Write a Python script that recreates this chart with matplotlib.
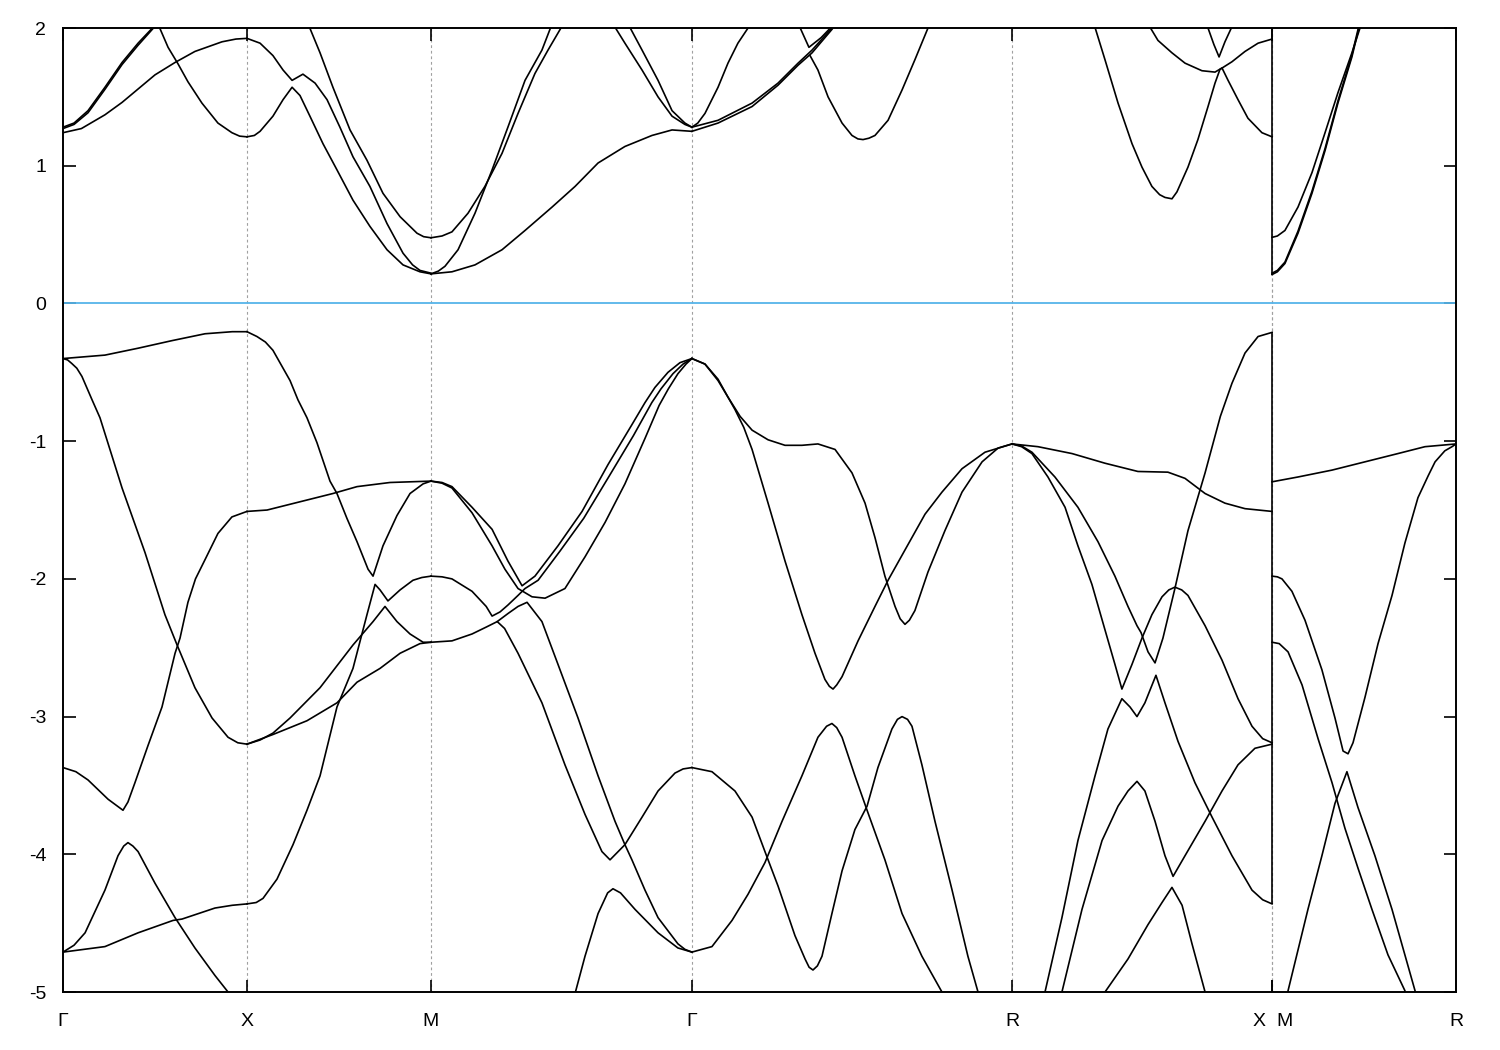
import matplotlib
matplotlib.use('Agg')
import matplotlib.pyplot as plt
from matplotlib import transforms

plt.rcParams['font.family'] = ['Liberation Sans', 'DejaVu Sans']
plt.rcParams['axes.unicode_minus'] = False

# high symmetry points along the path (Gamma-X = 1)
kpts = [0.0, 1.0, 2.0, 3.418, 5.158, 6.571, 6.571, 7.571]
klabels = ['Γ', 'X', 'M', 'Γ', 'R', 'X', 'M', 'R']
yticks = [2, 1, 0, -1, -2, -3, -4, -5]
e_fermi = 0.0

# ---- Gamma - X ----
gx_c1a = [(0, 1.28), (0.06, 1.31), (0.136, 1.40), (0.228, 1.57), (0.321, 1.75), (0.408, 1.89), (0.500, 2.02)]
gx_c1b = [(0, 1.27), (0.06, 1.30), (0.136, 1.385), (0.228, 1.555), (0.321, 1.735), (0.408, 1.875),
          (0.505, 2.02)]
gx_c2 = [(0, 1.24), (0.10, 1.27), (0.228, 1.37), (0.321, 1.46), (0.500, 1.66), (0.609, 1.75),
         (0.717, 1.83), (0.864, 1.90), (0.94, 1.92), (1.0, 1.925)]
gx_c3 = [(0.516, 2.03), (0.571, 1.86), (0.625, 1.74), (0.679, 1.61), (0.755, 1.455), (0.842, 1.31),
         (0.918, 1.24), (0.96, 1.215), (1.0, 1.21)]
gx_v1 = [(0, -0.40), (0.228, -0.375), (0.408, -0.325), (0.592, -0.27), (0.772, -0.22), (0.92, -0.205),
         (1.0, -0.205)]
gx_v2 = [(0, -0.40), (0.025, -0.41), (0.047, -0.435), (0.075, -0.47), (0.103, -0.53), (0.158, -0.70),
         (0.201, -0.83), (0.321, -1.34), (0.446, -1.81), (0.554, -2.26), (0.620, -2.48), (0.717, -2.79),
         (0.810, -3.01), (0.897, -3.15), (0.95, -3.19), (1.0, -3.20)]
gx_v3 = [(0, -3.37), (0.07, -3.40), (0.136, -3.46), (0.245, -3.60), (0.326, -3.68), (0.353, -3.62),
         (0.391, -3.48), (0.462, -3.21), (0.538, -2.93), (0.609, -2.54), (0.636, -2.43), (0.679, -2.17),
         (0.72, -2.00), (0.772, -1.86), (0.842, -1.67), (0.918, -1.55), (1.0, -1.51)]
gx_v4 = [(0, -4.71), (0.06, -4.66), (0.120, -4.57), (0.228, -4.26), (0.299, -4.01), (0.33, -3.94),
         (0.353, -3.915), (0.38, -3.94), (0.408, -3.98), (0.500, -4.21), (0.609, -4.46), (0.717, -4.68),
         (0.826, -4.88), (0.897, -5.0), (0.93, -5.06)]
gx_v5 = [(0, -4.71), (0.228, -4.67), (0.408, -4.57), (0.598, -4.48), (0.647, -4.47), (0.826, -4.39),
         (0.92, -4.37), (1.0, -4.36)]

# ---- X - M ----
xm_c2 = [(1.0, 1.925), (1.071, 1.89), (1.141, 1.80), (1.196, 1.695), (1.245, 1.62), (1.304, 1.665),
         (1.370, 1.60), (1.435, 1.48), (1.505, 1.28), (1.576, 1.065), (1.668, 0.85), (1.761, 0.58),
         (1.848, 0.365), (1.90, 0.28), (1.940, 0.24), (2.0, 0.22)]
xm_c3 = [(1.0, 1.21), (1.04, 1.22), (1.071, 1.25), (1.141, 1.36), (1.196, 1.48), (1.245, 1.57),
         (1.288, 1.51), (1.342, 1.36), (1.413, 1.16), (1.489, 0.97), (1.576, 0.75), (1.668, 0.56),
         (1.761, 0.39), (1.848, 0.28), (1.940, 0.23), (2.0, 0.215)]
xm_c4 = [(1.326, 2.05), (1.397, 1.82), (1.467, 1.57), (1.560, 1.26), (1.652, 1.04), (1.739, 0.80),
         (1.832, 0.63), (1.924, 0.51), (1.96, 0.485), (2.0, 0.477)]
xm_v1 = [(1.0, -0.205), (1.054, -0.24), (1.10, -0.28), (1.141, -0.34), (1.234, -0.56), (1.277, -0.70),
         (1.326, -0.83), (1.380, -1.01), (1.451, -1.29), (1.489, -1.38), (1.543, -1.56), (1.598, -1.73),
         (1.658, -1.93), (1.685, -1.98), (1.739, -1.76), (1.815, -1.54), (1.886, -1.38), (1.957, -1.31),
         (2.0, -1.29)]
xm_v3 = [(1.0, -1.51), (1.109, -1.50), (1.288, -1.44), (1.467, -1.38), (1.598, -1.33), (1.777, -1.30),
         (2.0, -1.29)]
xm_va = [(1.0, -3.20), (1.071, -3.17), (1.141, -3.12), (1.234, -3.01), (1.397, -2.79), (1.576, -2.48),
         (1.685, -2.31), (1.750, -2.20), (1.815, -2.31), (1.886, -2.40), (1.957, -2.46), (2.0, -2.46)]
xm_vb = [(1.0, -3.20), (1.141, -3.13), (1.326, -3.03), (1.489, -2.90), (1.598, -2.75), (1.723, -2.65),
         (1.832, -2.54), (1.940, -2.47), (2.0, -2.46)]
xm_vs = [(1.0, -4.36), (1.05, -4.35), (1.087, -4.32), (1.163, -4.18), (1.250, -3.93), (1.326, -3.68),
         (1.397, -3.43), (1.489, -2.93), (1.576, -2.65), (1.652, -2.26), (1.696, -2.04), (1.723, -2.08),
         (1.766, -2.16), (1.832, -2.08), (1.902, -2.01), (1.95, -1.99), (2.0, -1.98)]

# ---- M - Gamma ----
mg_c4 = [(2.0, 0.477), (2.06, 0.49), (2.114, 0.52), (2.201, 0.655), (2.293, 0.85), (2.386, 1.09),
         (2.473, 1.38), (2.565, 1.67), (2.636, 1.84), (2.728, 2.05)]
mg_cs = [(2.0, 0.215), (2.04, 0.235), (2.076, 0.27), (2.147, 0.39), (2.239, 0.655), (2.332, 0.97),
         (2.418, 1.28), (2.511, 1.62), (2.603, 1.84), (2.658, 2.03)]
mg_cg = [(2.0, 0.215), (2.114, 0.23), (2.239, 0.28), (2.386, 0.39), (2.511, 0.53), (2.658, 0.70),
         (2.783, 0.85), (2.908, 1.02), (3.054, 1.14), (3.201, 1.22), (3.310, 1.26), (3.418, 1.25)]
mg_ct1 = [(3.071, 2.03), (3.147, 1.84), (3.234, 1.62), (3.310, 1.40), (3.380, 1.31), (3.418, 1.28)]
mg_ct2 = [(2.989, 2.03), (3.054, 1.89), (3.147, 1.695), (3.234, 1.50), (3.310, 1.36), (3.380, 1.30),
          (3.418, 1.28)]
mg_p1 = [(2.0, -1.29), (2.06, -1.30), (2.114, -1.33), (2.223, -1.48), (2.332, -1.64), (2.418, -1.87),
         (2.495, -2.05), (2.565, -1.98), (2.690, -1.76), (2.821, -1.51), (2.962, -1.17), (3.092, -0.88),
         (3.163, -0.72), (3.217, -0.61), (3.288, -0.50), (3.353, -0.43), (3.418, -0.40)]
mg_p2 = [(2.0, -1.29), (2.06, -1.305), (2.114, -1.34), (2.223, -1.52), (2.332, -1.76), (2.402, -1.93),
         (2.473, -2.07), (2.549, -2.13), (2.620, -2.14), (2.728, -2.07), (2.837, -1.84), (2.946, -1.59),
         (3.054, -1.31), (3.163, -0.98), (3.24, -0.74), (3.29, -0.62), (3.342, -0.51), (3.386, -0.44),
         (3.418, -0.40)]
mg_p3 = [(2.0, -1.98), (2.06, -1.985), (2.114, -2.00), (2.223, -2.09), (2.30, -2.20), (2.332, -2.27),
         (2.375, -2.24), (2.418, -2.19), (2.473, -2.12), (2.511, -2.07), (2.582, -2.01), (2.70, -1.80),
         (2.83, -1.56), (2.97, -1.25), (3.10, -0.96), (3.20, -0.72), (3.25, -0.62), (3.315, -0.51),
         (3.370, -0.44), (3.418, -0.40)]
mg_p4 = [(2.0, -2.46), (2.114, -2.45), (2.223, -2.40), (2.30, -2.35), (2.36, -2.31), (2.40, -2.36),
         (2.473, -2.54), (2.603, -2.90), (2.728, -3.35), (2.837, -3.71), (2.929, -3.98), (2.973, -4.04),
         (3.054, -3.93), (3.147, -3.73), (3.234, -3.54), (3.326, -3.41), (3.37, -3.38), (3.418, -3.37)]
mg_p5 = [(2.36, -2.31), (2.42, -2.25), (2.473, -2.20), (2.522, -2.17), (2.603, -2.31), (2.690, -2.62),
         (2.799, -3.01), (2.908, -3.43), (3.0, -3.76), (3.054, -3.93), (3.092, -4.04), (3.163, -4.26),
         (3.234, -4.46), (3.342, -4.65), (3.38, -4.69), (3.418, -4.71)]
mg_low = [(2.775, -5.05), (2.837, -4.74), (2.908, -4.43), (2.96, -4.28), (2.989, -4.25), (3.03, -4.28),
          (3.109, -4.40), (3.234, -4.57), (3.342, -4.68), (3.418, -4.71)]

# ---- Gamma - R ----
gr_cs = [(3.418, 1.28), (3.45, 1.31), (3.489, 1.38), (3.560, 1.57), (3.614, 1.745), (3.668, 1.89),
         (3.723, 2.0), (3.74, 2.05)]
gr_cd1 = [(3.418, 1.28), (3.560, 1.33), (3.745, 1.455), (3.886, 1.60), (3.995, 1.745), (4.071, 1.84),
          (4.179, 2.0), (4.20, 2.03)]
gr_cd2 = [(3.418, 1.25), (3.560, 1.31), (3.745, 1.43), (3.886, 1.585), (3.995, 1.73), (4.071, 1.82),
          (4.179, 1.99), (4.20, 2.03)]
gr_q1 = [(4.000, 2.02), (4.054, 1.86), (4.12, 1.93), (4.185, 2.02)]
gr_q2 = [(4.060, 1.80), (4.103, 1.695), (4.158, 1.50), (4.234, 1.31), (4.288, 1.22), (4.32, 1.195),
         (4.348, 1.19), (4.38, 1.20), (4.413, 1.22), (4.484, 1.33), (4.560, 1.55), (4.630, 1.77),
         (4.701, 2.0), (4.72, 2.05)]
gr_a = [(3.418, -0.40), (3.489, -0.44), (3.560, -0.55), (3.614, -0.68), (3.680, -0.82), (3.745, -0.92),
        (3.832, -0.99), (3.924, -1.03), (4.016, -1.03), (4.103, -1.02), (4.196, -1.06), (4.288, -1.23),
        (4.359, -1.45), (4.413, -1.70), (4.467, -1.98), (4.522, -2.20), (4.55, -2.29), (4.576, -2.33),
        (4.60, -2.30), (4.630, -2.23), (4.701, -1.95), (4.793, -1.65), (4.886, -1.37), (4.995, -1.15),
        (5.082, -1.05), (5.158, -1.02)]
gr_b = [(3.418, -0.40), (3.489, -0.44), (3.560, -0.56), (3.614, -0.68), (3.652, -0.77), (3.700, -0.90),
        (3.745, -1.06), (3.832, -1.45), (3.924, -1.87), (4.016, -2.26), (4.087, -2.54), (4.141, -2.73),
        (4.165, -2.78), (4.185, -2.80), (4.205, -2.77), (4.234, -2.71), (4.321, -2.45), (4.413, -2.20),
        (4.484, -2.01), (4.576, -1.79), (4.685, -1.53), (4.777, -1.37), (4.886, -1.20), (5.011, -1.08),
        (5.158, -1.02)]
gr_d = [(3.418, -3.37), (3.527, -3.40), (3.652, -3.54), (3.745, -3.73), (3.815, -3.98), (3.886, -4.23),
        (3.978, -4.59), (4.033, -4.76), (4.055, -4.82), (4.076, -4.84), (4.10, -4.81), (4.125, -4.74),
        (4.179, -4.43), (4.234, -4.12), (4.304, -3.82), (4.370, -3.65), (4.429, -3.37), (4.505, -3.09),
        (4.535, -3.02), (4.560, -3.00), (4.59, -3.02), (4.614, -3.07), (4.668, -3.35), (4.739, -3.76),
        (4.832, -4.26), (4.918, -4.74), (4.973, -5.0), (4.985, -5.06)]
gr_e = [(3.418, -4.71), (3.527, -4.67), (3.636, -4.48), (3.723, -4.29), (3.815, -4.06), (3.908, -3.76),
        (4.016, -3.43), (4.103, -3.15), (4.15, -3.07), (4.179, -3.05), (4.205, -3.08), (4.234, -3.15),
        (4.304, -3.43), (4.370, -3.68), (4.467, -4.04), (4.560, -4.43), (4.668, -4.74), (4.777, -5.0),
        (4.79, -5.06)]

# ---- R - X ----
rx_c1 = [(5.603, 2.03), (5.663, 1.77), (5.734, 1.455), (5.810, 1.16), (5.864, 0.99), (5.918, 0.85),
         (5.96, 0.79), (5.989, 0.77), (6.027, 0.76), (6.054, 0.81), (6.114, 0.99), (6.168, 1.19),
         (6.223, 1.43), (6.261, 1.60), (6.288, 1.70), (6.353, 1.755), (6.424, 1.83), (6.495, 1.89),
         (6.571, 1.92)]
rx_c2 = [(5.897, 2.03), (5.951, 1.91), (6.027, 1.82), (6.098, 1.745), (6.190, 1.69), (6.261, 1.68),
         (6.299, 1.71), (6.332, 1.62), (6.386, 1.48), (6.440, 1.345), (6.516, 1.24), (6.571, 1.21)]
rx_c3 = [(6.215, 2.03), (6.255, 1.88), (6.283, 1.79), (6.315, 1.90), (6.36, 2.03)]
rx_flat = [(5.158, -1.02), (5.299, -1.04), (5.484, -1.09), (5.663, -1.16), (5.842, -1.22), (6.005, -1.225),
           (6.098, -1.27), (6.207, -1.38), (6.315, -1.45), (6.424, -1.49), (6.571, -1.51)]
rx_a = [(5.158, -1.02), (5.21, -1.04), (5.266, -1.09), (5.353, -1.26), (5.446, -1.48), (5.516, -1.76),
        (5.592, -2.04), (5.663, -2.37), (5.717, -2.62), (5.755, -2.80), (5.810, -2.62), (5.864, -2.43),
        (5.918, -2.26), (5.973, -2.13), (6.01, -2.08), (6.043, -2.06), (6.08, -2.08), (6.114, -2.12),
        (6.207, -2.34), (6.299, -2.59), (6.386, -2.87), (6.462, -3.07), (6.52, -3.16), (6.571, -3.19)]
rx_b = [(5.158, -1.02), (5.21, -1.035), (5.266, -1.08), (5.391, -1.26), (5.516, -1.48), (5.625, -1.73),
        (5.717, -1.98), (5.788, -2.20), (5.837, -2.34), (5.859, -2.39), (5.897, -2.53), (5.935, -2.61),
        (5.978, -2.43), (6.043, -2.07), (6.114, -1.65), (6.207, -1.23), (6.29, -0.82), (6.353, -0.58),
        (6.424, -0.36), (6.495, -0.24), (6.571, -0.21)]
rx_c = [(5.32, -5.06), (5.337, -5.0), (5.429, -4.46), (5.516, -3.90), (5.609, -3.43), (5.679, -3.09),
        (5.755, -2.87), (5.799, -2.93), (5.837, -3.00), (5.880, -2.90), (5.940, -2.70), (5.989, -2.90),
        (6.060, -3.18), (6.152, -3.48), (6.245, -3.73), (6.353, -4.01), (6.462, -4.26), (6.52, -4.33),
        (6.571, -4.36)]
rx_d = [(5.42, -5.06), (5.429, -5.0), (5.538, -4.40), (5.647, -3.90), (5.734, -3.65), (5.788, -3.54),
        (5.837, -3.47), (5.880, -3.54), (5.935, -3.76), (5.989, -4.01), (6.033, -4.16), (6.098, -4.01),
        (6.207, -3.76), (6.299, -3.54), (6.386, -3.35), (6.478, -3.23), (6.571, -3.20)]
rx_e = [(5.65, -5.06), (5.663, -5.0), (5.788, -4.76), (5.897, -4.51), (5.973, -4.35), (6.027, -4.24),
        (6.082, -4.37), (6.136, -4.65), (6.207, -5.0), (6.22, -5.06)]

# ---- M - R ----
mr_c1 = [(6.571, 0.48), (6.60, 0.49), (6.641, 0.53), (6.712, 0.70), (6.788, 0.95), (6.859, 1.24),
         (6.929, 1.53), (7.005, 1.82), (7.049, 2.0), (7.06, 2.05)]
mr_c2a = [(6.571, 0.21), (6.60, 0.23), (6.641, 0.29), (6.712, 0.51), (6.788, 0.80), (6.859, 1.11),
          (6.929, 1.455), (7.005, 1.79), (7.043, 2.0), (7.055, 2.05)]
mr_c2b = [(6.571, 0.22), (6.60, 0.24), (6.641, 0.30), (6.712, 0.525), (6.788, 0.815), (6.859, 1.125),
          (6.929, 1.47), (7.005, 1.805), (7.04, 2.0), (7.05, 2.05)]
mr_v1 = [(6.571, -1.295), (6.712, -1.26), (6.897, -1.21), (7.076, -1.15), (7.255, -1.09), (7.402, -1.04),
         (7.571, -1.02)]
mr_v2 = [(6.571, -1.98), (6.60, -1.985), (6.625, -2.00), (6.679, -2.09), (6.750, -2.30), (6.842, -2.66),
         (6.913, -3.01), (6.957, -3.25), (6.984, -3.27), (7.011, -3.19), (7.076, -2.86), (7.147, -2.47),
         (7.223, -2.12), (7.293, -1.74), (7.364, -1.41), (7.42, -1.25), (7.457, -1.15), (7.51, -1.07),
         (7.549, -1.04), (7.571, -1.02)]
mr_v3 = [(6.571, -2.46), (6.61, -2.47), (6.658, -2.53), (6.734, -2.77), (6.821, -3.16), (6.897, -3.48),
         (6.967, -3.81), (7.038, -4.10), (7.114, -4.40), (7.201, -4.73), (7.293, -4.99), (7.30, -5.05)]
mr_v4 = [(6.655, -5.05), (6.658, -4.99), (6.766, -4.40), (6.842, -4.01), (6.913, -3.63), (6.978, -3.40),
         (7.038, -3.66), (7.130, -4.01), (7.223, -4.40), (7.348, -4.99), (7.355, -5.05)]

bands = [gx_c1a, gx_c1b, gx_c2, gx_c3, gx_v1, gx_v2, gx_v3, gx_v4, gx_v5,
         xm_c2, xm_c3, xm_c4, xm_v1, xm_v3, xm_va, xm_vb, xm_vs,
         mg_c4, mg_cs, mg_cg, mg_ct1, mg_ct2, mg_p1, mg_p2, mg_p3, mg_p4, mg_p5, mg_low,
         gr_cs, gr_cd1, gr_cd2, gr_q1, gr_q2, gr_a, gr_b, gr_d, gr_e,
         rx_c1, rx_c2, rx_c3, rx_flat, rx_a, rx_b, rx_c, rx_d, rx_e,
         mr_c1, mr_c2a, mr_c2b, mr_v1, mr_v2, mr_v3, mr_v4]

# bands meeting at the X|M break, joined by a vertical line like gnuplot does
x_end_cond = [rx_c1, rx_c2]
m_start_cond = [mr_c1, mr_c2a]
x_end_val = [rx_flat, rx_a, rx_b, rx_c, rx_d]
m_start_val = [mr_v1, mr_v2, mr_v3]

fig = plt.figure(figsize=(15, 10.5), dpi=100)
ax = fig.add_axes([0.042, 0.0552, 0.9287, 0.9181])

for k in kpts[1:-1]:
    ax.axvline(k, color='#a0a0a0', lw=0.8, ls=(0, (2.5, 2.5)), zorder=1)
ax.axhline(e_fermi, color='#56b4e9', lw=1.3, zorder=2)

for b in bands:
    ks, es = zip(*b)
    ax.plot(ks, es, color='black', lw=1.2, zorder=3)

kbreak = kpts[5]
cond_e = [b[-1][1] for b in x_end_cond] + [b[0][1] for b in m_start_cond]
val_e = [b[-1][1] for b in x_end_val] + [b[0][1] for b in m_start_val]
ax.vlines(kbreak, min(cond_e), max(cond_e), color='black', lw=1.2, zorder=3)
ax.vlines(kbreak, min(val_e), max(val_e), color='black', lw=1.2, zorder=3)

ax.set_xlim(kpts[0], kpts[-1])
ax.set_ylim(-5, 2)
ax.set_yticks(yticks)
ax.set_yticklabels([str(v) for v in yticks])

# X and M share the break; nudge them apart a hair so each keeps its own label
tick_pos = list(kpts)
tick_pos[5] -= 1e-4
tick_pos[6] += 1e-4
ax.set_xticks(tick_pos)
ax.set_xticklabels(klabels)
ax.tick_params(direction='in', length=9, width=1.2, labelsize=14, pad=12,
               top=True, right=True)
ax.tick_params(axis='x', pad=15)

for i, dx in [(5, -9), (6, 9)]:
    lab = ax.get_xticklabels()[i]
    lab.set_transform(lab.get_transform() + transforms.ScaledTranslation(dx / 72, 0, fig.dpi_scale_trans))

for s in ax.spines.values():
    s.set_linewidth(1.4)

fig.savefig('out.png', dpi=100)
